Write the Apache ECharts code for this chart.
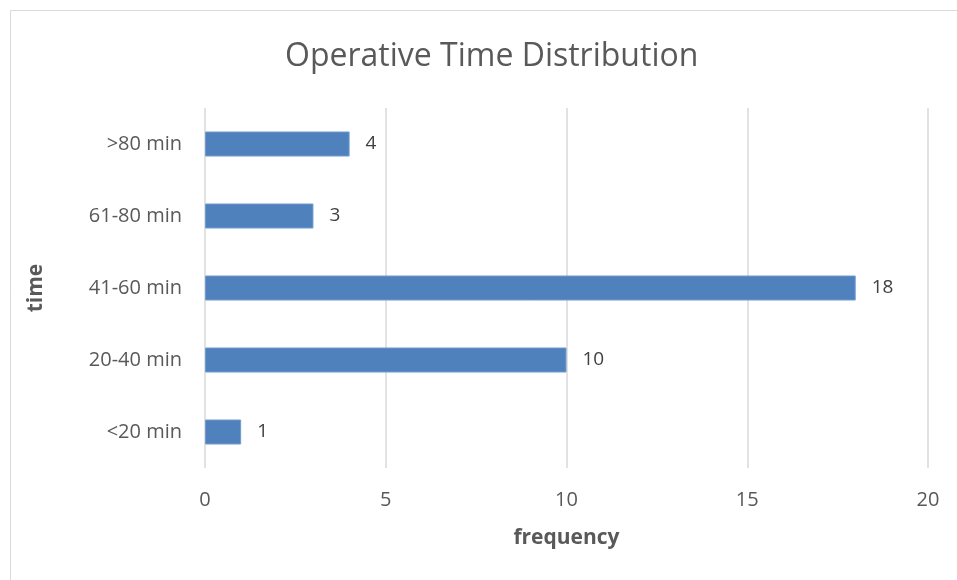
<!DOCTYPE html>
<html lang="en">
<head>
  <meta charset="UTF-8">
  <title>Operative Time Distribution</title>
  <script src="https://cdn.jsdelivr.net/npm/echarts@6/dist/echarts.min.js"></script>
  <style>
    html, body { margin: 0; padding: 0; background: #fff; }
    #chart { width: 957px; height: 580px; }
  </style>
</head>
<body>
  <div id="chart"></div>
  <script>
    // data (bottom to top)
    const timeGroups = ['<20 min', '20-40 min', '41-60 min', '61-80 min', '>80 min'];
    const frequency = [1, 10, 18, 3, 4];
    const freqTicks = [0, 5, 10, 15, 20];

    const font = '"Open Sans", Lato, sans-serif';
    const chart = echarts.init(document.getElementById('chart'));

    chart.setOption({
      backgroundColor: '#fff',
      animation: false,
      graphic: [{
        type: 'rect',
        shape: { x: 10.5, y: 10.5, width: 980, height: 600 },
        style: { fill: 'none', stroke: '#d9d9d9', lineWidth: 1 },
        silent: true
      }],
      title: {
        text: 'Operative Time Distribution',
        left: 280,
        top: 36,
        textStyle: { fontFamily: font, fontSize: 32, fontWeight: 'normal', color: '#595959' }
      },
      grid: { left: 205, right: 29, top: 108, bottom: 112 },
      xAxis: {
        type: 'value',
        min: freqTicks[0],
        max: freqTicks[freqTicks.length - 1],
        interval: 5,
        name: 'frequency',
        nameLocation: 'middle',
        nameGap: 60,
        nameTextStyle: { fontFamily: font, fontSize: 21, fontWeight: 'bold', color: '#595959' },
        axisLine: { show: false },
        axisTick: { show: false },
        axisLabel: { fontFamily: font, fontSize: 20, color: '#595959', margin: 22 },
        splitLine: { show: true, lineStyle: { color: '#d9d9d9', width: 1.5 } }
      },
      yAxis: {
        type: 'category',
        data: timeGroups,
        name: 'time',
        nameLocation: 'middle',
        nameGap: 158,
        nameRotate: 90,
        nameTextStyle: { fontFamily: font, fontSize: 21, fontWeight: 'bold', color: '#595959' },
        axisLine: { show: false },
        axisTick: { show: false },
        axisLabel: { fontFamily: font, fontSize: 20, color: '#595959', margin: 23 }
      },
      series: [{
        type: 'bar',
        data: frequency,
        barWidth: 25,
        itemStyle: { color: '#4f81bd', borderColor: '#6f9ad0', borderWidth: 1 },
        label: {
          show: true,
          position: 'right',
          distance: 16,
          fontFamily: font,
          fontSize: 19,
          color: '#404040'
        }
      }]
    });
  </script>
</body>
</html>
